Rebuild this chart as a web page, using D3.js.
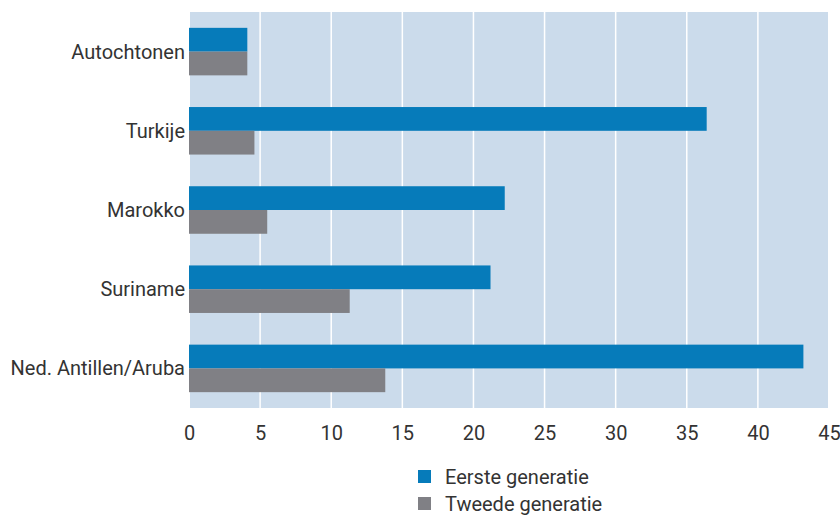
<!DOCTYPE html>
<html><head><meta charset="utf-8">
<script src="https://cdn.jsdelivr.net/npm/d3@7"></script>
<style>body{margin:0;background:#fff}</style>
</head><body>
<svg id="c" width="840" height="515"></svg>
<script>
const categories = ["Autochtonen","Turkije","Marokko","Suriname","Ned. Antillen/Aruba"];
const eerste = [4.1, 36.4, 22.2, 21.2, 43.2];
const tweede = [4.1, 4.6, 5.5, 11.3, 13.8];
const seriesNames = ["Eerste generatie","Tweede generatie"];
const colors = ["#067bba","#808085"];
const xTicks = [0,5,10,15,20,25,30,35,40,45];

const svg = d3.select("#c");
const font = "Roboto, 'Liberation Sans', sans-serif";
const fs = 20;
const x = d3.scaleLinear().domain([0,45]).range([189,829]);
const y = d3.scaleBand().domain(categories).range([12,408]).paddingInner(0.4).paddingOuter(0.2);
const sub = d3.scaleBand().domain([0,1]).range([0,y.bandwidth()]);

svg.append("rect").attr("x",190).attr("y",12).attr("width",638).attr("height",396).attr("fill","#cbdbeb");
svg.append("g").selectAll("line").data(xTicks.slice(1,-1)).join("line")
  .attr("x1",d=>x(d)).attr("x2",d=>x(d)).attr("y1",12).attr("y2",408)
  .attr("stroke","#fff").attr("stroke-width",1.5);

const data = categories.map((c,i)=>({c, vals:[eerste[i],tweede[i]]}));
const g = svg.append("g").selectAll("g").data(data).join("g")
  .attr("transform",d=>`translate(0,${y(d.c)})`);
g.selectAll("rect").data(d=>d.vals.map((v,k)=>({v,k}))).join("rect")
  .attr("x",x(0)).attr("y",d=>sub(d.k)).attr("height",sub.bandwidth())
  .attr("width",d=>x(d.v)-x(0)).attr("fill",d=>colors[d.k]);

svg.append("g").selectAll("text").data(categories).join("text")
  .attr("x",185).attr("y",d=>y(d)+y.bandwidth()/2).attr("dy","0.35em")
  .attr("text-anchor","end").attr("font-family",font).attr("font-size",fs)
  .attr("fill","#333").text(d=>d);

const xAxis = d3.axisBottom(x).tickValues(xTicks).tickSize(0).tickPadding(0);
const ax = svg.append("g").attr("transform","translate(0,426)").call(xAxis);
ax.select(".domain").remove();
ax.selectAll("text").attr("font-family",font).attr("font-size",fs).attr("fill","#333").attr("dy","0.71em");

const leg = svg.append("g").selectAll("g").data(seriesNames).join("g")
  .attr("transform",(d,i)=>`translate(418,${470+i*27})`);
leg.append("rect").attr("width",13).attr("height",13).attr("fill",(d,i)=>colors[i]);
leg.append("text").attr("x",27).attr("y",6.5).attr("dy","0.35em")
  .attr("font-family",font).attr("font-size",fs).attr("fill","#333").text(d=>d);
</script>
</body></html>
